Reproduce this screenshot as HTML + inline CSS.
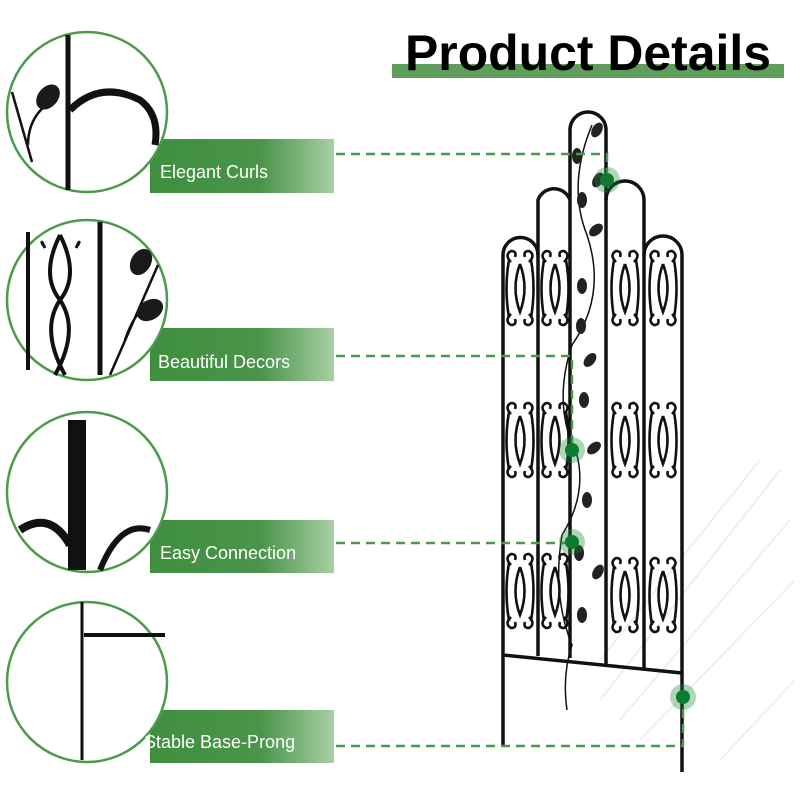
<!DOCTYPE html>
<html><head><style>
body{margin:0;background:#fff;}
svg{display:block}
</style></head><body>
<svg width="800" height="800" viewBox="0 0 800 800" xmlns="http://www.w3.org/2000/svg">
<defs>
<linearGradient id="g" x1="0" x2="1" y1="0" y2="0">
<stop offset="0" stop-color="#3f8f3f"/><stop offset="0.6" stop-color="#4a944a"/><stop offset="1" stop-color="#a8cfa3"/>
</linearGradient>
<g id="scroll">
<path d="M0,0 q-9,24 0,48 q9,-24 0,-48 M-9,-2 q-7,-7 0,-11 q6,0 4,6 M9,-2 q7,-7 0,-11 q-6,0 -4,6 M-9,50 q-7,7 0,11 q6,0 4,-6 M9,50 q7,7 0,11 q-6,0 -4,-6 M-11,-4 q-5,28 0,58 M11,-4 q5,28 0,58" fill="none" stroke="#111" stroke-width="2.6"/>
</g>
</defs>
<g stroke="#eee" stroke-width="2" fill="none">
<path d="M600,700 L780,470 M620,720 L790,520 M640,740 L795,580 M600,660 L760,460 M720,760 L795,680"/>
</g>
<!-- title -->
<rect x="392" y="64" width="392" height="14" fill="#5e9e5a"/>
<text x="405" y="70" font-family="Liberation Sans Narrow, Liberation Sans, sans-serif" font-weight="bold" font-size="50" fill="#000" textLength="366" lengthAdjust="spacingAndGlyphs">Product Details</text>

<g>
<rect x="150" y="139" width="184" height="54" fill="url(#g)"/>
<rect x="150" y="328" width="184" height="53" fill="url(#g)"/>
<rect x="150" y="520" width="184" height="53" fill="url(#g)"/>
<rect x="150" y="710" width="184" height="53" fill="url(#g)"/>
</g>
<g stroke="#4c9a4c" stroke-width="2.5" fill="#fff">
<circle cx="87" cy="112" r="80"/><circle cx="87" cy="300" r="80"/>
<circle cx="87" cy="492" r="80"/><circle cx="87" cy="682" r="80"/>
</g>
<g stroke="#111" fill="none" stroke-width="4">
<line x1="68" y1="35" x2="68" y2="190" stroke-width="5"/>
<path d="M70,110 q30,-30 70,-10 q20,15 15,45" stroke-width="7"/>
<path d="M12,92 l20,70 M28,145 q0,-25 18,-40" stroke-width="2.5"/>
<line x1="28" y1="232" x2="28" y2="370"/><line x1="100" y1="222" x2="100" y2="375" stroke-width="5"/>
<path d="M60,235 q-20,40 0,65 q20,30 -5,75" stroke-width="4"/>
<path d="M60,235 q20,40 0,65 q-20,30 5,75" stroke-width="4"/>
<path d="M45,248 q-5,-10 -2,-3 M76,248 q5,-10 2,-3" stroke-width="3"/>
<path d="M110,375 l48,-110 M125,340 q10,-30 25,-35" stroke-width="2.5"/>
<rect x="68" y="420" width="18" height="150" fill="#111" stroke="none"/>
<path d="M20,530 q30,-20 50,15" stroke-width="8"/>
<path d="M100,570 q20,-50 50,-40" stroke-width="6"/>
<line x1="82" y1="602" x2="82" y2="760" stroke-width="3"/>
<line x1="84" y1="635" x2="165" y2="635" stroke-width="4"/>
</g>
<g fill="#1a1a1a">
<ellipse cx="48" cy="97" rx="10" ry="14" transform="rotate(40 48 97)"/>
<ellipse cx="141" cy="262" rx="10" ry="14" transform="rotate(30 141 262)"/>
<ellipse cx="150" cy="310" rx="10" ry="14" transform="rotate(60 150 310)"/>
</g>
<g font-family="Liberation Sans, sans-serif" font-size="18" fill="#fff">
<text x="160" y="178">Elegant Curls</text>
<text x="158" y="368">Beautiful Decors</text>
<text x="160" y="559">Easy Connection</text>
<text x="144" y="748">Stable Base-Prong</text>
</g>
<!-- trellis -->
<g stroke="#111" stroke-width="3.5" fill="none">
<path d="M570,658 V130 a17,17 0 0 1 36,0 V667"/>
<path d="M538,656 V200 a17,17 0 0 1 32,0"/>
<path d="M606,200 a17,17 0 0 1 38,0 V670"/>
<path d="M503,745 V255 a17,17 0 0 1 35,0"/>
<path d="M644,255 a19,19 0 0 1 38,0 V772"/>
<path d="M503,655 L682,673"/>
<path d="M592,125 q-25,60 -5,110 q20,60 -15,110 q-20,60 5,110 q10,40 -15,80 q-10,60 10,110 q-10,30 -5,65" stroke-width="1.5"/>
</g>
<g fill="#222">
<ellipse cx="597" cy="130" rx="5" ry="8" transform="rotate(30 597 130)"/>
<ellipse cx="577" cy="156" rx="5" ry="8"/><ellipse cx="598" cy="180" rx="5" ry="8" transform="rotate(30 598 180)"/>
<ellipse cx="582" cy="200" rx="5" ry="8"/><ellipse cx="596" cy="230" rx="5" ry="8" transform="rotate(50 596 230)"/>
<ellipse cx="582" cy="286" rx="5" ry="8"/><ellipse cx="581" cy="326" rx="5" ry="8"/><ellipse cx="590" cy="360" rx="5" ry="8" transform="rotate(40 590 360)"/>
<ellipse cx="584" cy="400" rx="5" ry="8"/><ellipse cx="594" cy="448" rx="5" ry="8" transform="rotate(50 594 448)"/>
<ellipse cx="587" cy="500" rx="5" ry="8"/><ellipse cx="598" cy="572" rx="5" ry="8" transform="rotate(30 598 572)"/>
<ellipse cx="582" cy="615" rx="5" ry="8"/><ellipse cx="579" cy="553" rx="5" ry="8"/>
</g>
<g>
<use href="#scroll" x="520" y="264"/><use href="#scroll" x="555" y="264"/><use href="#scroll" x="625" y="264"/><use href="#scroll" x="663" y="264"/>
<use href="#scroll" x="520" y="416"/><use href="#scroll" x="555" y="416"/><use href="#scroll" x="625" y="416"/><use href="#scroll" x="663" y="416"/>
<use href="#scroll" x="520" y="567"/><use href="#scroll" x="555" y="567"/><use href="#scroll" x="625" y="571"/><use href="#scroll" x="663" y="571"/>
</g>
<g stroke="#4a9a4a" stroke-width="2.5" fill="none" stroke-dasharray="9,6">
<path d="M336,154 H607 V180"/>
<path d="M336,356 H572 V450"/>
<path d="M336,543 H572"/>
<path d="M336,746 H683 V697"/>
</g>
<g>
<circle cx="607" cy="180" r="13" fill="#1b8a3a" opacity="0.35"/><circle cx="607" cy="180" r="7" fill="#0e7a2e"/>
<circle cx="572" cy="450" r="13" fill="#1b8a3a" opacity="0.35"/><circle cx="572" cy="450" r="7" fill="#0e7a2e"/>
<circle cx="572" cy="542" r="13" fill="#1b8a3a" opacity="0.35"/><circle cx="572" cy="542" r="7" fill="#0e7a2e"/>
<circle cx="683" cy="697" r="13" fill="#1b8a3a" opacity="0.35"/><circle cx="683" cy="697" r="7" fill="#0e7a2e"/>
</g>
</svg>
</body></html>
